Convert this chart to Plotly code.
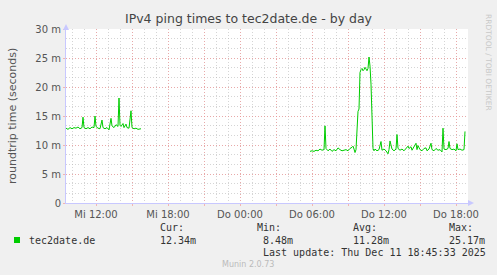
import plotly.graph_objects as go

# ---------------- data ----------------
seg1_times = ["09:30", "09:40", "09:50", "10:00", "10:10", "10:20", "10:30", "10:40", "10:50", "10:55",
              "11:00", "11:10", "11:20", "11:30", "11:40", "11:50", "11:55", "12:00", "12:10", "12:20",
              "12:30", "12:35", "12:45", "12:55", "13:05", "13:15", "13:20", "13:30", "13:40", "13:50",
              "13:55", "14:00", "14:05", "14:15", "14:20", "14:30", "14:35", "14:45", "14:55", "15:00",
              "15:10", "15:20", "15:30", "15:45"]
seg1_values = [12.9, 12.7, 13.0, 12.8, 13.0, 12.9, 13.1, 12.8, 13.0, 14.8,
               13.0, 12.8, 13.0, 12.8, 13.1, 13.0, 15.0, 13.2, 12.9, 12.8,
               14.3, 13.0, 12.8, 13.0, 12.6, 14.6, 13.3, 13.0, 13.5, 13.2,
               18.1, 13.4, 13.2, 13.7, 13.0, 13.6, 13.0, 12.9, 15.9, 13.0,
               12.8, 12.9, 12.7, 12.8]

seg2_times = ["05:50", "06:00", "06:10", "06:20", "06:30", "06:40", "06:50", "07:00", "07:05", "07:10",
              "07:20", "07:30", "07:40", "07:50", "08:00", "08:10", "08:20", "08:30", "08:40", "08:50",
              "09:00", "09:10", "09:20", "09:25", "09:30", "09:35", "09:40", "09:45", "09:50", "09:55",
              "10:00", "10:05", "10:10", "10:15", "10:20", "10:25", "10:30", "10:35", "10:40", "10:45",
              "10:50", "10:55", "11:00", "11:05", "11:10", "11:15", "11:25", "11:35", "11:45", "11:50",
              "12:00", "12:10", "12:20", "12:25", "12:30", "12:40", "12:50", "13:00", "13:05", "13:10",
              "13:20", "13:30", "13:40", "13:50", "14:00", "14:05", "14:15", "14:20", "14:30", "14:40",
              "14:45", "14:50", "15:00", "15:10", "15:20", "15:30", "15:35", "15:45", "15:55", "16:00",
              "16:10", "16:20", "16:30", "16:40", "16:50", "16:55", "17:00", "17:10", "17:20", "17:25",
              "17:30", "17:40", "17:50", "18:00", "18:05", "18:10", "18:20", "18:30", "18:40", "18:45"]
seg2_values = [8.9, 9.0, 8.9, 9.1, 9.0, 9.3, 9.1, 9.2, 13.3, 9.4,
               9.0, 9.3, 8.9, 9.2, 9.0, 9.5, 9.2, 9.0, 9.1, 9.2,
               9.0, 9.4, 9.6, 9.8, 9.3, 8.7, 9.2, 12.5, 15.8, 16.2,
               22.5, 23.0, 23.2, 22.8, 23.0, 23.4, 23.1, 22.8, 23.2, 25.17,
               23.6, 20.5, 15.0, 9.4, 9.0, 9.3, 9.0, 9.2, 10.6, 9.1,
               9.3, 9.0, 8.48, 9.2, 10.7, 9.3, 9.0, 9.3, 11.8, 9.4,
               9.1, 9.3, 9.0, 9.5, 9.8, 9.4, 9.7, 9.1, 9.6, 10.3,
               9.2, 9.9, 9.2, 9.0, 9.4, 9.5, 9.0, 9.3, 10.3, 9.2,
               9.0, 9.4, 9.1, 9.2, 8.8, 12.9, 9.3, 9.2, 9.4, 10.6,
               9.4, 9.2, 9.3, 9.0, 10.2, 9.2, 9.3, 9.1, 9.2, 12.34]

series_name = "tec2date.de"
day1 = "2025-12-10"
day2 = "2025-12-11"

x_range = ["2025-12-10 09:30", "2025-12-11 19:00"]
x_tick_times = ["2025-12-10 12:00", "2025-12-10 15:00", "2025-12-10 18:00", "2025-12-10 21:00",
                "2025-12-11 00:00", "2025-12-11 03:00", "2025-12-11 06:00", "2025-12-11 09:00",
                "2025-12-11 12:00", "2025-12-11 15:00", "2025-12-11 18:00"]
x_tick_labels = ["Mi 12:00", "", "Mi 18:00", "", "Do 00:00", "", "Do 06:00", "", "Do 12:00", "", "Do 18:00"]

y_tick_vals = [0, 5, 10, 15, 20, 25, 30]
y_tick_labels = ["0", "5 m", "10 m", "15 m", "20 m", "25 m", "30 m"]

stats_labels = ["Cur:", "Min:", "Avg:", "Max:"]
stats_values = ["12.34m", "8.48m", "11.28m", "25.17m"]
last_update = "Last update: Thu Dec 11 18:45:33 2025"

# ---------------- layout geometry ----------------
W, H = 497, 275
L, R, T, B = 66, 29, 29, 72
PW, PH = W - L - R, H - T - B


def px(x):
    return (x - L) / PW


def py(y):
    return (H - B - y) / PH


times = [f"{day1} {t}" for t in seg1_times] + [None] + [f"{day2} {t}" for t in seg2_times]
values = seg1_values + [None] + seg2_values

GREEN = "#00CC00"
fig = go.Figure()
fig.add_trace(go.Scatter(x=times, y=values, mode="lines", line=dict(color=GREEN, width=1),
                         connectgaps=False, showlegend=False, hoverinfo="skip"))

MAJ = "rgba(245,140,140,0.6)"
MIN = "rgba(185,185,185,0.6)"
AX = "#C8C8FF"

fig.update_layout(
    width=W, height=H,
    margin=dict(l=L, r=R, t=T, b=B),
    paper_bgcolor="#F0F0F0", plot_bgcolor="#FFFFFF",
    font=dict(family="DejaVu Sans", color="#555555"),
    title=dict(text="IPv4 ping times to tec2date.de - by day", x=0.5, xanchor="center",
               y=1 - 19 / H, yanchor="middle", font=dict(size=12.5, color="#444444", family="DejaVu Sans")),
    xaxis=dict(type="date", range=x_range, tickmode="array", tickvals=x_tick_times, ticktext=x_tick_labels,
               showgrid=True, gridcolor=MAJ, griddash="1px,2px", gridwidth=1,
               minor=dict(dtick=3600000, tick0="2025-12-10 00:00", showgrid=True, gridcolor=MIN,
                          griddash="1px,2px", gridwidth=1),
               showline=True, linecolor=AX, linewidth=1, zeroline=False,
               ticks="outside", ticklen=2, tickcolor=MAJ,
               tickfont=dict(size=10, color="#555555"), fixedrange=True),
    yaxis=dict(range=[0, 30], tickmode="array", tickvals=y_tick_vals, ticktext=y_tick_labels,
               showgrid=True, gridcolor=MAJ, griddash="1px,2px", gridwidth=1,
               minor=dict(dtick=5 / 3, tick0=0, showgrid=True, gridcolor=MIN, griddash="1px,2px", gridwidth=1),
               showline=True, linecolor=AX, linewidth=1, zeroline=False,
               ticks="outside", ticklen=2, tickcolor=MAJ,
               tickfont=dict(size=10, color="#555555"), fixedrange=True),
)

# axis arrows
fig.add_shape(type="path", xref="paper", yref="paper",
              path=f"M {px(63)} {py(30)} L {px(69)} {py(30)} L {px(66)} {py(24)} Z",
              fillcolor=AX, line=dict(width=0))
fig.add_shape(type="path", xref="paper", yref="paper",
              path=f"M {px(468)} {py(200)} L {px(468)} {py(206)} L {px(474)} {py(203)} Z",
              fillcolor=AX, line=dict(width=0))

ann = []
ann.append(dict(text="roundtrip time (seconds)", x=px(12), y=py(116), textangle=-90,
                font=dict(size=11, color="#555555", family="DejaVu Sans")))
ann.append(dict(text="RRDTOOL / TOBI OETIKER", x=px(489), y=py(62), textangle=90,
                font=dict(size=7.5, color="#C8C8C8", family="DejaVu Sans")))
MONO = dict(size=10, color="#333333", family="DejaVu Sans Mono")
ann.append(dict(text=series_name, x=px(27), y=py(240), xanchor="left", font=MONO))
label_x = [158, 255, 351, 447]
value_x = [158, 261, 351, 447]
for lx, vx, lab, val in zip(label_x, value_x, stats_labels, stats_values):
    ann.append(dict(text=lab, x=px(lx), y=py(227), xanchor="left", font=MONO))
    ann.append(dict(text=val, x=px(vx), y=py(240), xanchor="left", font=MONO))
ann.append(dict(text=last_update, x=px(261), y=py(252), xanchor="left", font=MONO))
ann.append(dict(text="Munin 2.0.73", x=px(248), y=py(264), xanchor="center",
                font=dict(size=8, color="#BBBBBB", family="DejaVu Sans")))
for a in ann:
    a.update(xref="paper", yref="paper", showarrow=False, yanchor=a.get("yanchor", "middle"))
    a.setdefault("xanchor", "center")
fig.update_layout(annotations=ann)

# legend swatch
fig.add_shape(type="rect", xref="paper", yref="paper",
              x0=px(14), x1=px(20), y0=py(243), y1=py(237), fillcolor=GREEN, line=dict(width=0))

fig.write_html("out.html")
